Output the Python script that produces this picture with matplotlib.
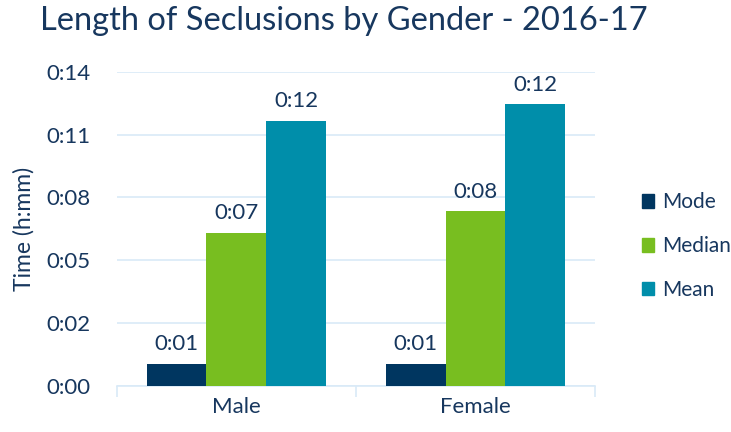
import math
import numpy as np
from matplotlib import pyplot as plt
from matplotlib.patches import Patch

plt.rcParams['font.family'] = ['Lato', 'DejaVu Sans']

# Данные (минуты)
genders = ['Male', 'Female']
series_names = ['Mode', 'Median', 'Mean']
mode_min = [1.0, 1.0]
median_min = [7.0, 8.0]
mean_min = [12.15, 12.9]
colors = ['#003660', '#78BE20', '#008EAA']

text_color = '#17375E'
grid_color = '#D9EAF7'

# Excel: шаг 0.002 дня
tick_step = 0.002 * 1440
y_max = 0.01 * 1440


def hmm(minutes):
    m = int(math.floor(minutes + 1e-6))
    return f"{m // 60}:{m % 60:02d}"


fig = plt.figure(figsize=(7.31, 4.32), dpi=100)
ax = fig.add_axes([0.1597, 0.1065, 0.814 - 0.1597, 0.834 - 0.1065])

x = np.arange(len(genders))
width = 0.25
for i, (name, vals) in enumerate(zip(series_names, [mode_min, median_min, mean_min])):
    bars = ax.bar(x + (i - 1) * width, vals, width, color=colors[i], label=name, zorder=3)
    for b, v in zip(bars, vals):
        ax.text(b.get_x() + b.get_width() / 2, v + 0.45, hmm(v),
                ha='center', va='bottom', fontsize=16, color=text_color)

ax.set_xlim(-0.5, 1.5)
ax.set_ylim(0, y_max)
yt = np.arange(0, y_max + 0.01, tick_step)
ax.set_yticks(yt)
ax.set_yticklabels([hmm(v) for v in yt], fontsize=16, color=text_color)
ax.tick_params(axis='y', length=0, pad=19)

ax.set_xticks([-0.5, 0.5, 1.5])
ax.set_xticklabels([])
ax.set_xticks(x, minor=True)
ax.set_xticklabels(genders, minor=True, fontsize=16, color=text_color)
ax.tick_params(axis='x', which='major', length=8, color=grid_color, width=1.2)
ax.tick_params(axis='x', which='minor', length=0, pad=8)

ax.grid(axis='y', color=grid_color, linewidth=1.2, zorder=0)
for s in ['top', 'right', 'left']:
    ax.spines[s].set_visible(False)
ax.spines['bottom'].set_color(grid_color)
ax.spines['bottom'].set_linewidth(1.2)

ax.set_ylabel('Time (h:mm)', fontsize=16.5, color=text_color, labelpad=8)

fig.suptitle('Length of Seclusions by Gender - 2016-17', fontsize=23.5,
             color=text_color, x=0.471, y=0.985)

handles = [Patch(color=c, label=n) for c, n in zip(colors, series_names)]
fig.legend(handles=handles, loc='center left', bbox_to_anchor=(0.852, 0.43),
           frameon=False, fontsize=15, labelcolor=text_color,
           handlelength=0.6, handleheight=0.6, handletextpad=0.4, labelspacing=1.15)

plt.savefig('out.png', dpi=100)
